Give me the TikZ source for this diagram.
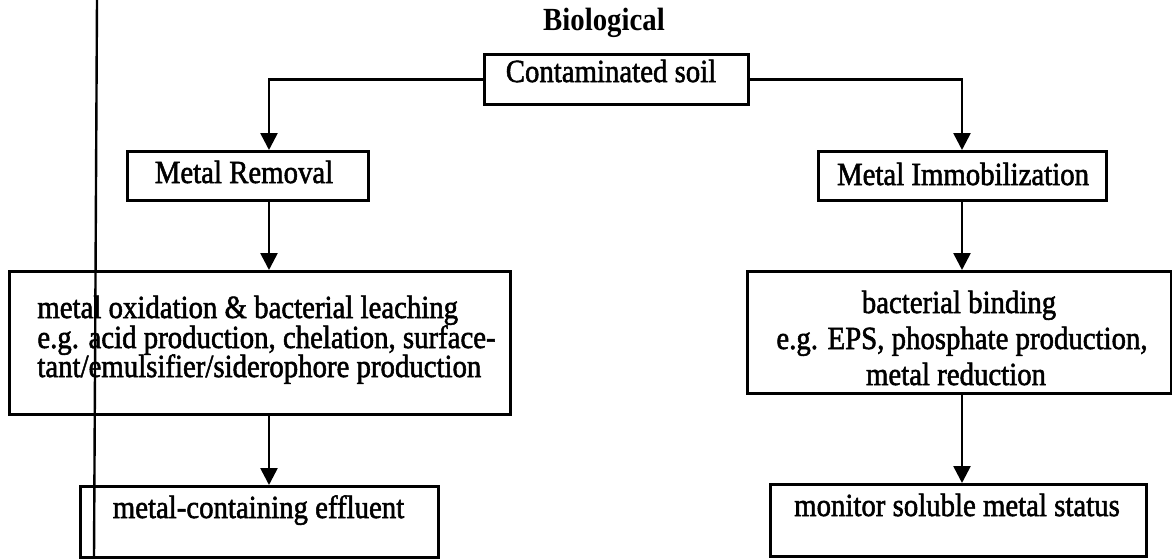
\documentclass[tikz,border=0pt]{standalone}
\usepackage{fontspec}
\setmainfont{Liberation Serif}
\newfontfamily\scanfont[FakeBold=1.8]{Liberation Serif}
\newcommand{\tall}[1]{\scalebox{1}[1.12]{#1}}
\usetikzlibrary{arrows.meta}
\begin{document}
\begin{tikzpicture}[x=0.5pt,y=-0.5pt,
  box/.style={draw, line width=1.4pt, inner sep=0pt, anchor=north west},
  txt/.style={inner sep=0pt, anchor=base, font=\scanfont\fontsize{14.4pt}{15pt}\selectfont},
  txtl/.style={txt, anchor=base west},
  arr/.style={line width=1.3pt, -{Triangle[length=8.5pt,width=8.5pt]}},
  stray/.style={line width=1.2pt}]
\useasboundingbox (0,0) rectangle (1172,558);

% boxes
\node[box, minimum width=132pt, minimum height=25pt] (soil) at (483,53) {};
\node[box, minimum width=120.5pt, minimum height=24.5pt] (removal) at (126,150) {};
\node[box, minimum width=144pt, minimum height=24.5pt] (immob) at (817,150) {};
\node[box, minimum width=250.5pt, minimum height=71.5pt] (leach) at (8,270) {};
\node[box, minimum width=212pt, minimum height=61pt] (bind) at (746,270) {};
\node[box, minimum width=179pt, minimum height=35.5pt] (effl) at (79,485) {};
\node[box, minimum width=188pt, minimum height=36pt] (mon) at (769,483) {};

% texts
\node[txt, font=\fontsize{14.4pt}{15pt}\selectfont\bfseries] (title) at (604,30) {\tall{Biological}};
\node[txt] (tsoil) at (611,82) {\tall{Contaminated soil}};
\node[txt] (tremoval) at (244,183) {\tall{Metal Removal}};
\node[txt] (timmob) at (963,185) {\tall{Metal Immobilization}};
\node[txtl] (l1) at (37,318) {\tall{metal oxidation \& bacterial leaching}};
\node[txtl] (l2) at (37,348) {\tall{e.g. acid production, chelation, surface-}};
\node[txtl] (l3) at (37,377) {\tall{tant/emulsifier/siderophore production}};
\node[txt] (b1) at (959,313) {\tall{bacterial binding}};
\node[txt] (b2) at (962,349) {\tall{e.g. EPS, phosphate production,}};
\node[txt] (b3) at (956,385) {\tall{metal reduction}};
\node[txt] (teffl) at (258.5,518) {\tall{metal-containing effluent}};
\node[txt] (tmon) at (957,516) {\tall{monitor soluble metal status}};

% columns for connectors
\coordinate (lx) at (269,0);
\coordinate (rx) at (962,0);

\draw[arr] (soil.west) -| (lx |- removal.north);
\draw[arr] (soil.east) -| (rx |- immob.north);
\draw[arr] (lx |- removal.south) -- (lx |- leach.north);
\draw[arr] (lx |- leach.south) -- (lx |- effl.north);
\draw[arr] (rx |- immob.south) -- (rx |- bind.north);
\draw[arr] (rx |- bind.south) -- (rx |- mon.north);

% stray vertical rule of the scan
\coordinate (vt) at (97,0);
\coordinate (vb) at (94,558);
\draw[stray] (vt) -- (vb);
\end{tikzpicture}
\end{document}
